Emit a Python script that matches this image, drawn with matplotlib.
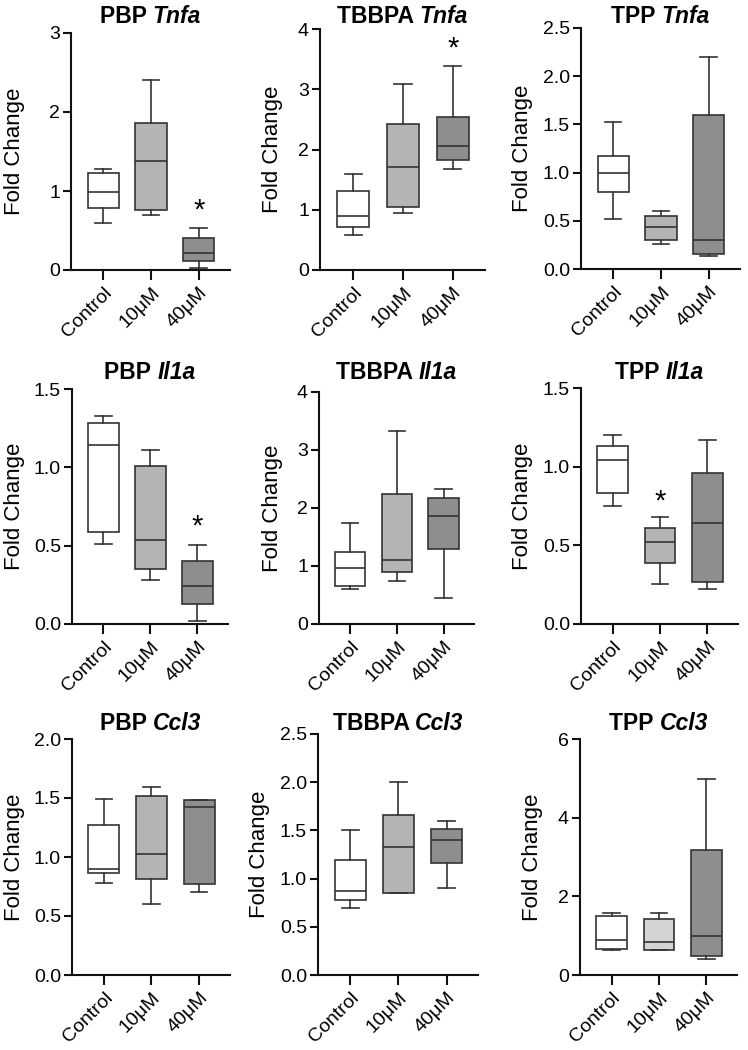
import numpy as np
import matplotlib
matplotlib.use('agg')
import matplotlib.pyplot as plt
from matplotlib.offsetbox import TextArea, HPacker, AnchoredOffsetbox

plt.rcParams['font.family'] = ['Liberation Sans', 'DejaVu Sans']

groups = ['Control', '10\u03bcM', '40\u03bcM']

# box stats per group: [whisker low, q1, median, q3, whisker high]
pbp_tnfa = [[0.60, 0.79, 0.99, 1.23, 1.28], [0.69, 0.76, 1.38, 1.86, 2.41], [0.03, 0.12, 0.21, 0.40, 0.53]]
tbbpa_tnfa = [[0.58, 0.72, 0.89, 1.31, 1.60], [0.94, 1.04, 1.71, 2.43, 3.09], [1.67, 1.82, 2.06, 2.54, 3.38]]
tpp_tnfa = [[0.52, 0.80, 1.00, 1.17, 1.525], [0.256, 0.30, 0.44, 0.55, 0.605], [0.14, 0.16, 0.30, 1.60, 2.20]]
pbp_il1a = [[0.51, 0.59, 1.14, 1.28, 1.327], [0.28, 0.35, 0.535, 1.01, 1.11], [0.017, 0.127, 0.24, 0.40, 0.505]]
tbbpa_il1a = [[0.60, 0.66, 0.96, 1.24, 1.74], [0.75, 0.89, 1.10, 2.24, 3.33], [0.45, 1.29, 1.86, 2.18, 2.32]]
tpp_il1a = [[0.75, 0.83, 1.04, 1.13, 1.20], [0.256, 0.39, 0.52, 0.61, 0.68], [0.224, 0.266, 0.645, 0.96, 1.17]]
pbp_ccl3 = [[0.78, 0.864, 0.90, 1.267, 1.49], [0.60, 0.81, 1.027, 1.513, 1.597], [0.70, 0.77, 1.42, 1.486, 1.486]]
tbbpa_ccl3 = [[0.70, 0.777, 0.87, 1.195, 1.50], [0.855, 0.855, 1.325, 1.66, 2.0], [0.90, 1.16, 1.40, 1.51, 1.597]]
tpp_ccl3 = [[0.64, 0.667, 0.89, 1.50, 1.584], [0.635, 0.635, 0.83, 1.42, 1.58], [0.40, 0.49, 1.0, 3.18, 4.99]]

chemicals = ['PBP', 'TBBPA', 'TPP']
genes = ['Tnfa', 'Il1a', 'Ccl3']
panel_data = [[pbp_tnfa, tbbpa_tnfa, tpp_tnfa],
              [pbp_il1a, tbbpa_il1a, tpp_il1a],
              [pbp_ccl3, tbbpa_ccl3, tpp_ccl3]]

y_ticks = [[[0, 1, 2, 3], [0, 1, 2, 3, 4], [0.0, 0.5, 1.0, 1.5, 2.0, 2.5]],
           [[0.0, 0.5, 1.0, 1.5], [0, 1, 2, 3, 4], [0.0, 0.5, 1.0, 1.5]],
           [[0.0, 0.5, 1.0, 1.5, 2.0], [0.0, 0.5, 1.0, 1.5, 2.0, 2.5], [0, 2, 4, 6]]]
tick_fmt = [['%d', '%d', '%.1f'], ['%.1f', '%d', '%.1f'], ['%.1f', '%.1f', '%d']]

# significance stars: (row, col, group index, y value)
stars = [(0, 0, 2, 0.866), (0, 1, 2, 3.82), (1, 0, 2, 0.675), (1, 2, 1, 0.835)]

fills = ['#ffffff', '#b4b4b4', '#8e8e8e']
tpp_ccl3_fills = ['#ffffff', '#d4d4d4', '#8e8e8e']

W, H = 748, 1050
# axes boxes in pixels: left, top, right, bottom
rects = [[(71, 33, 230, 270), (320, 29, 485, 270), (581, 28, 740, 269)],
         [(72, 389, 228, 624), (319, 392, 474, 624), (581, 388, 738, 624)],
         [(72, 739, 230, 975), (318, 734, 478, 975), (580, 739, 737, 975)]]
# right edge (pixels) of the "Fold Change" label
ylab_x = [[25, 283, 533], [25, 283, 533], [25, 270, 543]]
# title baseline per row (pixels from top)
title_base = [23, 379, 730]

fig = plt.figure(figsize=(W / 100, H / 100), dpi=100)

for r in range(3):
    for c in range(3):
        l, t, rr, b = rects[r][c]
        ax = fig.add_axes([l / W, 1 - b / H, (rr - l) / W, (b - t) / H])
        data = panel_data[r][c]
        stats = []
        for d in data:
            stats.append(dict(whislo=d[0], q1=d[1], med=d[2], q3=d[3], whishi=d[4], fliers=[]))
        bp = ax.bxp(stats, positions=[1, 2, 3], widths=0.65, capwidths=0.35,
                    patch_artist=True, showfliers=False,
                    boxprops=dict(edgecolor='#333333', linewidth=1.2),
                    medianprops=dict(color='#333333', linewidth=1.2),
                    whiskerprops=dict(color='#333333', linewidth=1.2),
                    capprops=dict(color='#333333', linewidth=1.2))
        cols = tpp_ccl3_fills if (r == 2 and c == 2) else fills
        for patch, fc in zip(bp['boxes'], cols):
            patch.set_facecolor(fc)

        yt = y_ticks[r][c]
        ax.set_ylim(yt[0], yt[-1])
        ax.set_yticks(yt)
        ax.set_yticklabels([tick_fmt[r][c] % v for v in yt])
        ax.set_xlim(0.33, 3.65)
        ax.set_xticks([1, 2, 3])
        ax.set_xticklabels(groups, rotation=45, ha='right', rotation_mode='anchor')

        for s in ['top', 'right']:
            ax.spines[s].set_visible(False)
        for s in ['left', 'bottom']:
            ax.spines[s].set_linewidth(1.5)
            ax.spines[s].set_color('#111111')
        ax.tick_params(axis='y', length=6, width=1.5, labelsize=14, pad=2, color='#111111')
        ax.tick_params(axis='x', length=7, width=1.5, labelsize=14, pad=3, color='#111111')

        ax.set_ylabel('Fold Change', fontsize=16)
        ax.yaxis.set_label_coords((ylab_x[r][c] - l) / (rr - l), 0.5)

        t1 = TextArea(chemicals[c] + ' ', textprops=dict(fontsize=16.5, fontweight='bold'))
        t2 = TextArea(genes[r], textprops=dict(fontsize=16.5, fontweight='bold', fontstyle='italic'))
        box = HPacker(children=[t1, t2], align='baseline', pad=0, sep=0)
        anc = AnchoredOffsetbox(loc='lower center', child=box, pad=0, borderpad=0,
                                frameon=False,
                                bbox_to_anchor=((l + rr) / 2 / W, 1 - (title_base[r] + 5) / H),
                                bbox_transform=fig.transFigure)
        ax.add_artist(anc)

        for sr, sc, gi, sy in stars:
            if sr == r and sc == c:
                ax.annotate('*', xy=(gi + 1, sy), xytext=(0, -12), textcoords='offset points',
                            ha='center', va='baseline', fontsize=21, annotation_clip=False)

fig.savefig('out.png', dpi=100)
